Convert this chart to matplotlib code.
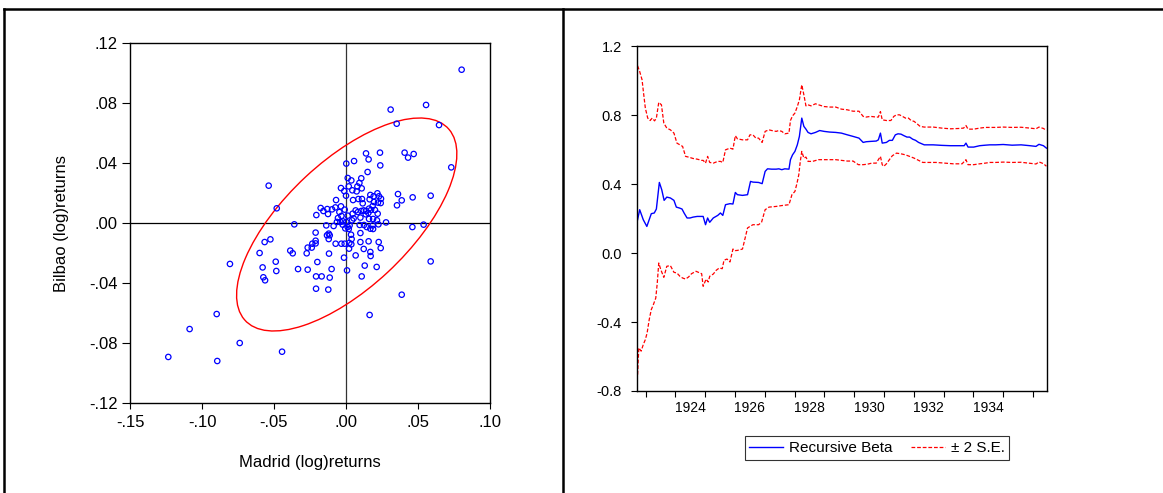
import numpy as np
import matplotlib
matplotlib.use("Agg")
import matplotlib.pyplot as plt
from matplotlib.patches import Ellipse
from matplotlib.lines import Line2D

plt.rcParams['font.family'] = ['Liberation Sans', 'DejaVu Sans']

# ---------------- Scatter data (Madrid vs Bilbao log returns) ----------------
madrid = [
    0.0803, 0.0310, 0.0556, 0.0352, 0.0646, 0.0731, 0.0588, 0.0588, -0.0537, -0.0481,
    -0.0565, -0.0525, -0.0600, -0.0579, -0.0488, -0.0484, -0.0574, -0.0562, -0.0806, -0.0898,
    -0.1086, -0.0738, -0.1234, -0.0894, -0.0444, 0.0164,
    0.0139, 0.0236, 0.0157, 0.0056, 0.0002, 0.0238, 0.0407, 0.0431, 0.0470, 0.0150,
    0.0012, 0.0037, 0.0106, 0.0093, 0.0109, -0.0035, -0.0012, 0.0019, 0.0044, 0.0079,
    0.0074, 0.0000, -0.0069, 0.0049, 0.0086, 0.0111, 0.0116, 0.0169, 0.0164, 0.0218,
    0.0192, 0.0229, 0.0243, 0.0361, 0.0387, 0.0463, 0.0354, 0.0194, 0.0222, 0.0241,
    0.0185, 0.0160, 0.0174, 0.0201, 0.0220, -0.0176, -0.0157, -0.0130, -0.0097, -0.0074,
    -0.0035, -0.0046, -0.0009, -0.0206, -0.0125, 0.0046, 0.0067, 0.0083, 0.0106, 0.0123,
    0.0139, 0.0155, -0.0056, -0.0032, 0.0012, 0.0053, 0.0100, 0.0137, 0.0160, 0.0188,
    0.0215, -0.0063, -0.0039, -0.0021, 0.0002, 0.0042, -0.0359, 0.0278, -0.0137, -0.0086,
    -0.0023, 0.0012, 0.0025, 0.0095, 0.0125, 0.0144, 0.0185, 0.0225, -0.0005, 0.0019,
    0.0169, 0.0188, 0.0461, 0.0539, -0.0211, -0.0120, -0.0132, -0.0113, 0.0035, 0.0039,
    0.0100, -0.0211, -0.0211, -0.0234, -0.0238, -0.0266, -0.0120, -0.0072, -0.0032, -0.0009,
    0.0023, 0.0037, 0.0021, 0.0100, 0.0157, 0.0227, 0.0241, -0.0387, -0.0370, -0.0273,
    -0.0118, 0.0067, 0.0123, 0.0169, 0.0171, -0.0014, -0.0199, 0.0130, 0.0213, -0.0333,
    -0.0266, -0.0100, 0.0007, -0.0208, -0.0169, -0.0113, 0.0109, -0.0208, -0.0123, 0.0387,
]
bilbao = [
    0.1022, 0.0756, 0.0787, 0.0662, 0.0653, 0.0371, 0.0182, -0.0256, 0.0249, 0.0098,
    -0.0127, -0.0109, -0.0200, -0.0296, -0.0258, -0.0320, -0.0362, -0.0382, -0.0273, -0.0607,
    -0.0707, -0.0800, -0.0893, -0.0920, -0.0858, -0.0613,
    0.0464, 0.0469, 0.0424, 0.0413, 0.0396, 0.0384, 0.0469, 0.0436, 0.0460, 0.0340,
    0.0300, 0.0284, 0.0298, 0.0267, 0.0231, 0.0233, 0.0213, 0.0244, 0.0218, 0.0244,
    0.0211, 0.0182, 0.0153, 0.0153, 0.0160, 0.0160, 0.0131, 0.0187, 0.0158, 0.0198,
    0.0178, 0.0178, 0.0162, 0.0193, 0.0151, 0.0171, 0.0118, 0.0140, 0.0136, 0.0133,
    0.0113, 0.0096, 0.0087, 0.0087, 0.0062, 0.0100, 0.0080, 0.0093, 0.0091, 0.0104,
    0.0111, 0.0073, 0.0089, 0.0053, 0.0060, 0.0062, 0.0084, 0.0073, 0.0080, 0.0084,
    0.0080, 0.0067, 0.0033, 0.0047, 0.0049, 0.0031, 0.0036, 0.0058, 0.0027, 0.0027,
    0.0018, 0.0007, 0.0007, 0.0011, 0.0007, 0.0018, -0.0009, 0.0004, -0.0016, -0.0020,
    -0.0011, -0.0027, -0.0016, -0.0013, -0.0013, -0.0027, -0.0016, -0.0009, -0.0036, -0.0040,
    -0.0038, -0.0040, -0.0027, -0.0011, -0.0064, -0.0071, -0.0082, -0.0082, -0.0078, -0.0107,
    -0.0067, -0.0118, -0.0136, -0.0138, -0.0164, -0.0164, -0.0107, -0.0138, -0.0138, -0.0138,
    -0.0133, -0.0142, -0.0171, -0.0127, -0.0122, -0.0127, -0.0167, -0.0184, -0.0202, -0.0202,
    -0.0204, -0.0216, -0.0173, -0.0193, -0.0220, -0.0231, -0.0260, -0.0284, -0.0293, -0.0307,
    -0.0311, -0.0307, -0.0316, -0.0356, -0.0356, -0.0364, -0.0356, -0.0438, -0.0444, -0.0478,
]

ellipse_center = [0.0005, -0.0010]
ellipse_cov = [[0.00585, 0.0036], [0.0036, 0.00504]]

scatter_xticks = [-0.15, -0.10, -0.05, 0.00, 0.05, 0.10]
scatter_xticklabels = ["-.15", "-.10", "-.05", ".00", ".05", ".10"]
scatter_yticks = [-0.12, -0.08, -0.04, 0.00, 0.04, 0.08, 0.12]
scatter_yticklabels = ["-.12", "-.08", "-.04", ".00", ".04", ".08", ".12"]

# ---------------- Recursive beta data ----------------
beta_t = [1922.73, 1922.80, 1922.92, 1923.04, 1923.19, 1923.29, 1923.36, 1923.46, 1923.54, 1923.62,
          1923.71, 1923.83, 1923.95, 1924.03, 1924.13, 1924.22, 1924.29, 1924.39, 1924.49, 1924.59,
          1924.73, 1924.88, 1924.93, 1925.01, 1925.08, 1925.15, 1925.27, 1925.42, 1925.51, 1925.59,
          1925.68, 1925.83, 1925.93, 1926.01, 1926.08, 1926.25, 1926.42, 1926.52, 1926.60, 1926.79,
          1926.91, 1927.01, 1927.09, 1927.23, 1927.38, 1927.47, 1927.57, 1927.67, 1927.81, 1927.86,
          1927.93, 1928.01, 1928.09, 1928.16, 1928.24, 1928.31, 1928.38, 1928.45, 1928.55, 1928.70,
          1928.84, 1928.99, 1929.18, 1929.38, 1929.57, 1929.77, 1929.96, 1930.16, 1930.30, 1930.40,
          1930.55, 1930.74, 1930.81, 1930.88, 1930.94, 1931.08, 1931.18, 1931.28, 1931.38, 1931.47,
          1931.57, 1931.67, 1931.77, 1931.86, 1931.96, 1932.06, 1932.16, 1932.35, 1932.65, 1932.94,
          1933.23, 1933.53, 1933.69, 1933.75, 1933.82, 1934.01, 1934.21, 1934.40, 1934.55, 1934.75,
          1935.00, 1935.30, 1935.60, 1935.90, 1936.10, 1936.20, 1936.35, 1936.45]
beta_v = [0.193, 0.251, 0.193, 0.154, 0.228, 0.232, 0.255, 0.409, 0.367, 0.305,
          0.324, 0.319, 0.305, 0.266, 0.261, 0.255, 0.232, 0.203, 0.203, 0.208,
          0.212, 0.212, 0.212, 0.164, 0.203, 0.178, 0.203, 0.218, 0.232, 0.218,
          0.280, 0.286, 0.284, 0.351, 0.338, 0.334, 0.338, 0.415, 0.411, 0.409,
          0.402, 0.473, 0.488, 0.486, 0.486, 0.488, 0.483, 0.488, 0.486, 0.541,
          0.569, 0.589, 0.627, 0.676, 0.782, 0.734, 0.718, 0.699, 0.691, 0.699,
          0.710, 0.705, 0.701, 0.699, 0.695, 0.685, 0.676, 0.666, 0.641, 0.645,
          0.647, 0.649, 0.656, 0.695, 0.637, 0.641, 0.653, 0.653, 0.685, 0.691,
          0.689, 0.680, 0.672, 0.672, 0.660, 0.653, 0.641, 0.627, 0.627, 0.624,
          0.622, 0.622, 0.622, 0.637, 0.614, 0.614, 0.622, 0.625, 0.627, 0.627,
          0.629, 0.625, 0.627, 0.622, 0.618, 0.630, 0.622, 0.608]

upper_t = [1922.73, 1922.80, 1922.88, 1922.93, 1922.99, 1923.07, 1923.15, 1923.22, 1923.30, 1923.36,
           1923.44, 1923.53, 1923.61, 1923.71, 1923.83, 1923.95, 1924.05, 1924.15, 1924.24, 1924.34,
           1924.44, 1924.59, 1924.73, 1924.88, 1924.93, 1925.01, 1925.08, 1925.15, 1925.27, 1925.42,
           1925.51, 1925.59, 1925.68, 1925.83, 1925.93, 1926.01, 1926.08, 1926.25, 1926.42, 1926.50,
           1926.60, 1926.70, 1926.79, 1926.91, 1927.01, 1927.14, 1927.23, 1927.38, 1927.47, 1927.57,
           1927.67, 1927.81, 1927.86, 1927.93, 1928.01, 1928.09, 1928.16, 1928.24, 1928.31, 1928.38,
           1928.45, 1928.55, 1928.70, 1928.84, 1928.99, 1929.18, 1929.38, 1929.57, 1929.77, 1929.96,
           1930.16, 1930.30, 1930.40, 1930.55, 1930.74, 1930.81, 1930.88, 1930.94, 1931.08, 1931.23,
           1931.33, 1931.42, 1931.52, 1931.62, 1931.72, 1931.82, 1931.91, 1932.01, 1932.11, 1932.21,
           1932.35, 1932.65, 1932.94, 1933.23, 1933.53, 1933.67, 1933.75, 1933.82, 1934.01, 1934.21,
           1934.40, 1934.55, 1934.75, 1935.00, 1935.30, 1935.60, 1935.90, 1936.10, 1936.20, 1936.35,
           1936.45]
upper_v = [1.085, 1.052, 1.004, 0.927, 0.840, 0.782, 0.768, 0.782, 0.766, 0.782,
           0.873, 0.859, 0.753, 0.724, 0.714, 0.695, 0.637, 0.627, 0.618, 0.560,
           0.556, 0.548, 0.544, 0.537, 0.537, 0.521, 0.560, 0.525, 0.521, 0.531,
           0.531, 0.525, 0.598, 0.608, 0.602, 0.680, 0.662, 0.656, 0.656, 0.685,
           0.685, 0.666, 0.666, 0.641, 0.705, 0.714, 0.710, 0.705, 0.710, 0.705,
           0.691, 0.695, 0.768, 0.795, 0.811, 0.849, 0.888, 0.975, 0.917, 0.853,
           0.859, 0.853, 0.865, 0.857, 0.849, 0.846, 0.846, 0.834, 0.830, 0.822,
           0.822, 0.792, 0.788, 0.792, 0.788, 0.788, 0.820, 0.772, 0.768, 0.768,
           0.792, 0.801, 0.801, 0.792, 0.782, 0.782, 0.768, 0.763, 0.749, 0.734,
           0.730, 0.730, 0.724, 0.720, 0.722, 0.724, 0.739, 0.718, 0.718, 0.724,
           0.728, 0.728, 0.728, 0.730, 0.728, 0.729, 0.724, 0.720, 0.730, 0.722,
           0.710]

lower_t = [1922.73, 1922.77, 1922.85, 1922.92, 1922.99, 1923.05, 1923.12, 1923.19, 1923.26, 1923.34,
           1923.39, 1923.44, 1923.51, 1923.61, 1923.71, 1923.83, 1923.95, 1924.05, 1924.15, 1924.24,
           1924.34, 1924.44, 1924.54, 1924.69, 1924.88, 1924.93, 1925.03, 1925.10, 1925.15, 1925.27,
           1925.37, 1925.47, 1925.57, 1925.63, 1925.73, 1925.83, 1925.93, 1926.01, 1926.08, 1926.25,
           1926.42, 1926.50, 1926.60, 1926.79, 1926.89, 1927.01, 1927.14, 1927.38, 1927.57, 1927.81,
           1927.86, 1927.91, 1928.01, 1928.08, 1928.14, 1928.19, 1928.24, 1928.31, 1928.38, 1928.45,
           1928.60, 1928.80, 1928.99, 1929.18, 1929.38, 1929.57, 1929.77, 1929.96, 1930.14, 1930.30,
           1930.45, 1930.59, 1930.74, 1930.81, 1930.88, 1930.94, 1930.99, 1931.08, 1931.18, 1931.28,
           1931.42, 1931.57, 1931.72, 1931.86, 1932.01, 1932.16, 1932.30, 1932.45, 1932.75, 1933.04,
           1933.33, 1933.62, 1933.75, 1933.82, 1934.01, 1934.21, 1934.40, 1934.55, 1934.75, 1935.00,
           1935.30, 1935.60, 1935.90, 1936.10, 1936.20, 1936.35, 1936.45]
lower_v = [-0.705, -0.550, -0.569, -0.531, -0.502, -0.463, -0.386, -0.328, -0.299, -0.261,
           -0.174, -0.058, -0.097, -0.141, -0.077, -0.073, -0.112, -0.116, -0.135, -0.145,
           -0.151, -0.139, -0.120, -0.106, -0.120, -0.193, -0.151, -0.168, -0.135, -0.122,
           -0.100, -0.087, -0.091, -0.042, -0.035, -0.052, 0.023, 0.014, 0.015, 0.023,
           0.145, 0.154, 0.164, 0.164, 0.178, 0.251, 0.266, 0.270, 0.275, 0.280,
           0.309, 0.338, 0.357, 0.405, 0.454, 0.531, 0.589, 0.550, 0.556, 0.531,
           0.531, 0.541, 0.541, 0.541, 0.541, 0.537, 0.533, 0.533, 0.512, 0.512,
           0.515, 0.521, 0.521, 0.541, 0.560, 0.512, 0.502, 0.517, 0.541, 0.564,
           0.579, 0.575, 0.569, 0.560, 0.550, 0.537, 0.525, 0.525, 0.525, 0.521,
           0.517, 0.517, 0.541, 0.512, 0.512, 0.517, 0.521, 0.525, 0.525, 0.527,
           0.525, 0.526, 0.520, 0.516, 0.528, 0.518, 0.503]

beta_x_range = [1922.71, 1936.47]
year_ticks = list(range(1923, 1937))
year_labels = [1924, 1926, 1928, 1930, 1932, 1934]
beta_yticks = [-0.8, -0.4, 0.0, 0.4, 0.8, 1.2]
beta_yticklabels = ["-0.8", "-0.4", "0.0", "0.4", "0.8", "1.2"]

# ---------------- Figure ----------------
W, H = 1163, 493
fig = plt.figure(figsize=(W / 100, H / 100), dpi=100)
fig.patch.set_facecolor("white")

def box(x0, y0, x1, y1):
    return [x0 / W, 1 - y1 / H, (x1 - x0) / W, (y1 - y0) / H]

FS_L = 12     # left panel text size
FS_R = 10     # right panel text size

# Left: scatter
ax1 = fig.add_axes(box(130, 43, 490, 403))
ax1.axhline(0, color="black", lw=0.9, zorder=1)
ax1.axvline(0, color="#333333", lw=0.9, zorder=1)
ax1.scatter(madrid, bilbao, s=15, facecolors="none", edgecolors="#0000ff", linewidths=0.9, zorder=3)
cov = np.array(ellipse_cov)
vals, vecs = np.linalg.eigh(cov)
order = vals.argsort()[::-1]
vals, vecs = vals[order], vecs[:, order]
angle = np.degrees(np.arctan2(vecs[1, 0], vecs[0, 0]))
ax1.add_patch(Ellipse(ellipse_center, 2 * np.sqrt(vals[0]), 2 * np.sqrt(vals[1]), angle=angle,
                      fill=False, edgecolor="#ff0000", lw=1.0, zorder=2))
ax1.set_xlim(-0.15, 0.10)
ax1.set_ylim(-0.12, 0.12)
ax1.set_xticks(scatter_xticks)
ax1.set_xticklabels(scatter_xticklabels)
ax1.set_yticks(scatter_yticks)
ax1.set_yticklabels(scatter_yticklabels)
ax1.tick_params(axis="y", direction="out", length=5.5, width=0.8, labelsize=FS_L, pad=3.5)
ax1.tick_params(axis="x", direction="out", length=4, width=0.8, labelsize=FS_L, pad=4.5)
ax1.set_xlabel("Madrid (log)returns", fontsize=FS_L, labelpad=18)
ax1.set_ylabel("Bilbao (log)returns", fontsize=FS_L, labelpad=14)
for sp in ax1.spines.values():
    sp.set_linewidth(1.0)

# Right: recursive beta
ax2 = fig.add_axes(box(637, 46, 1047, 391))
ax2.plot(beta_t, beta_v, color="#0000ff", lw=1.0, label="Recursive Beta")
ax2.plot(upper_t, upper_v, color="#ff0000", lw=0.9, ls=(0, (3, 1.5)), label="\u00b1 2 S.E.")
ax2.plot(lower_t, lower_v, color="#ff0000", lw=0.9, ls=(0, (3, 1.5)))
ax2.set_xlim(*beta_x_range)
ax2.set_ylim(-0.8, 1.2)
ax2.set_xticks(year_ticks)
ax2.set_xticklabels([])
ax2.set_xticks([y + 0.5 for y in year_labels], minor=True)
ax2.set_xticklabels([str(y) for y in year_labels], minor=True)
ax2.tick_params(axis="x", which="major", direction="out", length=4.3, width=0.8)
ax2.tick_params(axis="x", which="minor", length=0, labelsize=FS_R, pad=7.5)
ax2.set_yticks(beta_yticks)
ax2.set_yticklabels(beta_yticklabels)
ax2.tick_params(axis="y", direction="out", length=4.3, width=0.8, labelsize=FS_R + 0.5, pad=6.5)
for sp in ax2.spines.values():
    sp.set_linewidth(1.0)
leg = ax2.legend(loc="center", bbox_to_anchor=(877 / W, 1 - 448 / H), bbox_transform=fig.transFigure,
                 ncol=2, fontsize=11, frameon=True, fancybox=False, handlelength=2.2,
                 columnspacing=1.2, borderpad=0.3, handletextpad=0.4, borderaxespad=0)
leg.get_frame().set_edgecolor("black")
leg.get_frame().set_linewidth(0.8)

# Panel border lines
lw_b = 1.8
fig.add_artist(Line2D([4 / W, 1.0], [1 - 9 / H, 1 - 9 / H], color="black", lw=lw_b))
fig.add_artist(Line2D([4 / W, 4 / W], [0, 1 - 9 / H], color="black", lw=lw_b))
fig.add_artist(Line2D([563 / W, 563 / W], [0, 1 - 9 / H], color="black", lw=lw_b))

fig.savefig("out.png", dpi=100)
